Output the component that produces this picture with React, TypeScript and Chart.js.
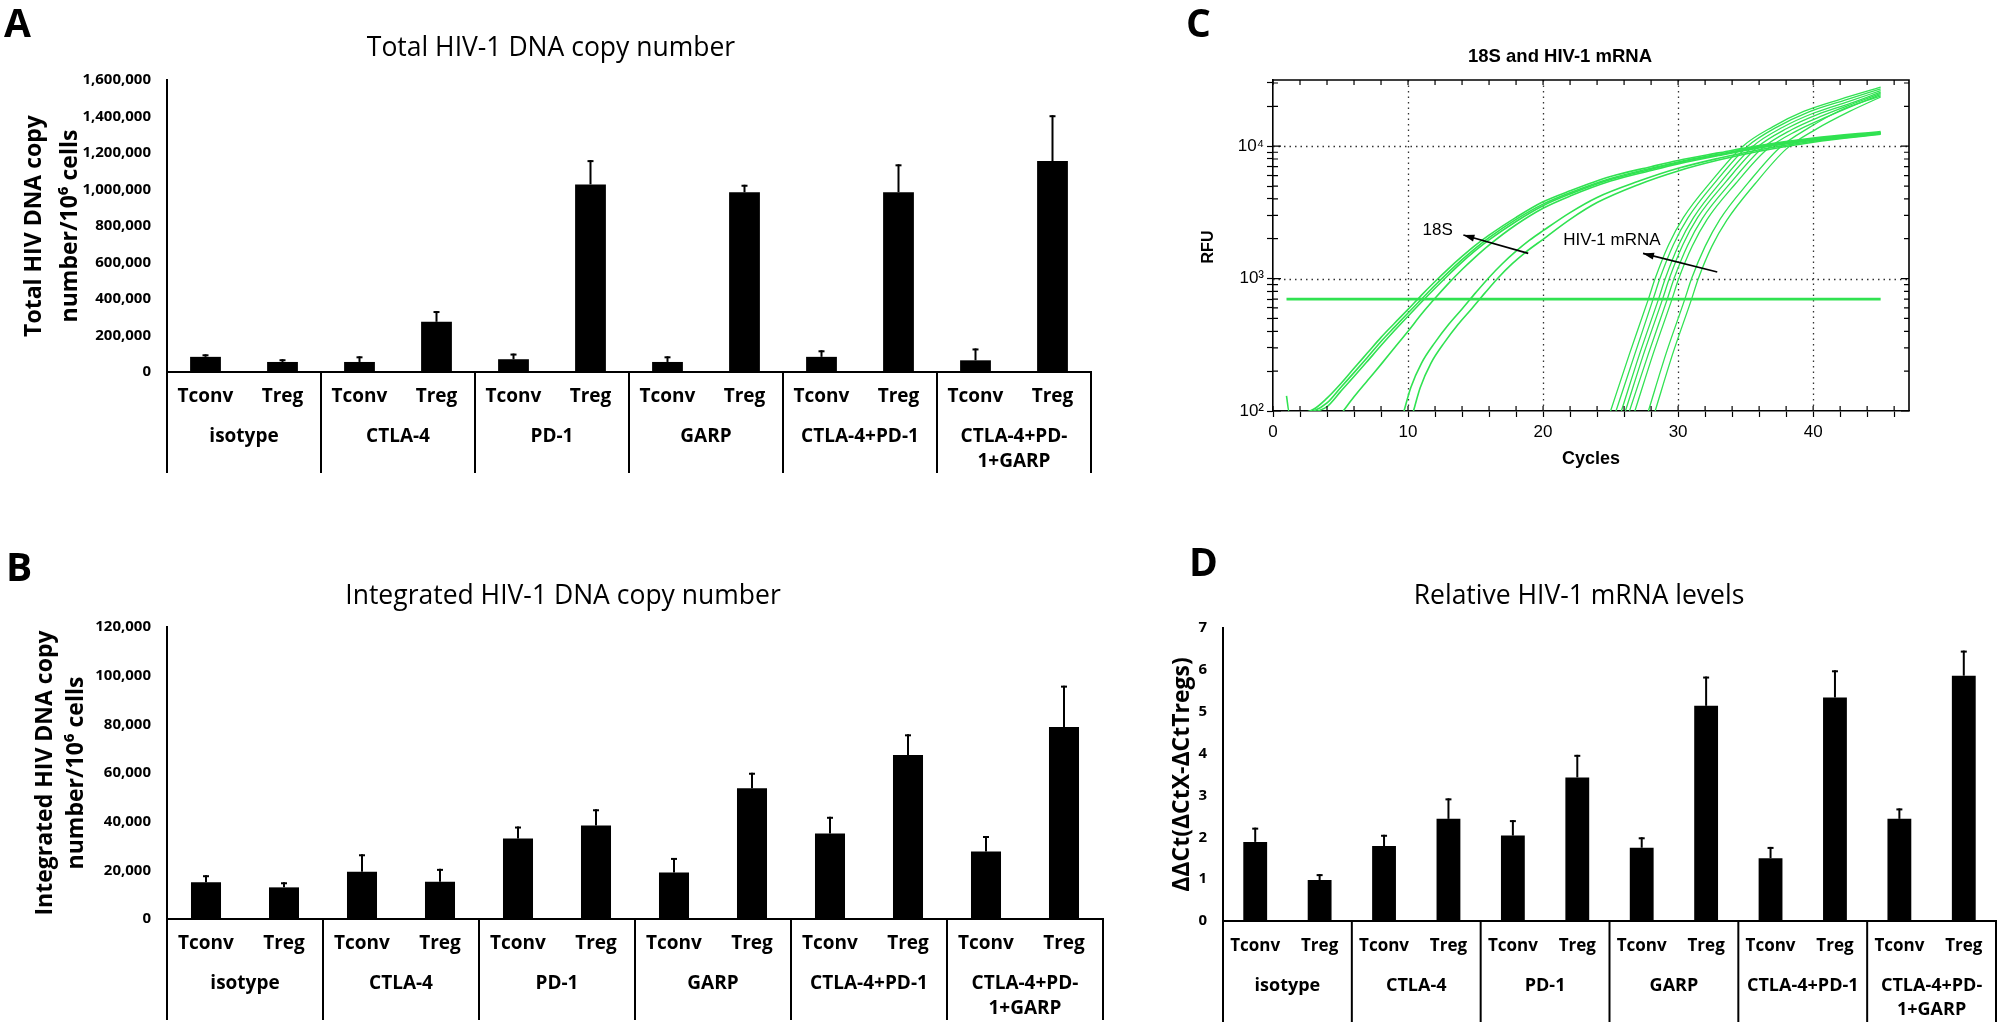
import React, { useEffect, useRef } from "react";
import { Chart, registerables } from "chart.js";

Chart.register(...registerables);

// ---------- shared categories ----------
const CELL_TYPES = ["Tconv", "Treg"];
const TREATMENTS: (string | string[])[] = [
  "isotype",
  "CTLA-4",
  "PD-1",
  "GARP",
  "CTLA-4+PD-1",
  ["CTLA-4+PD-", "1+GARP"],
];
const BAR_LABELS: string[] = TREATMENTS.flatMap(() => CELL_TYPES);

// ---------- panel A : total HIV-1 DNA ----------
const totalDnaMeans = [83000, 55000, 55000, 275000, 70000, 1028000, 55000, 985000, 83000, 985000, 64000, 1156000];
const totalDnaErrors = [14000, 15000, 31000, 59000, 31000, 133000, 31000, 41000, 36000, 153000, 65000, 251000];

// ---------- panel B : integrated HIV-1 DNA ----------
const integratedDnaMeans = [15100, 13000, 19400, 15300, 33100, 38400, 19100, 53700, 35100, 67400, 27700, 78900];
const integratedDnaErrors = [2900, 2100, 7200, 5300, 4900, 6700, 6000, 6400, 6900, 8500, 6400, 17000];

// ---------- panel D : relative HIV-1 mRNA ----------
const mrnaMeans = [1.89, 0.98, 1.79, 2.44, 2.04, 3.43, 1.75, 5.14, 1.5, 5.34, 2.44, 5.86];
const mrnaErrors = [0.34, 0.14, 0.27, 0.49, 0.37, 0.54, 0.25, 0.7, 0.27, 0.65, 0.25, 0.6];

// ---------- panel C : amplification curves [cycle, RFU] ----------
const s18S_1: [number, number][] = [[1, 130], [1.2, 98], [2, 97], [3, 103], [4, 125], [5, 160], [6, 210], [7, 275], [8, 360], [9, 460], [10, 585], [11, 750], [12, 950], [13, 1190], [14, 1470], [15, 1790], [16, 2130], [18, 2900], [20, 3800], [22, 4600], [25, 5900], [28, 7000], [30, 7800], [33, 8900], [36, 10100], [40, 11500], [45, 12900]];
const s18S_2: [number, number][] = [[1, 96], [2, 97], [3, 100], [4, 115], [5, 150], [6, 195], [7, 255], [8, 335], [9, 430], [10, 550], [11, 700], [12, 890], [13, 1120], [14, 1390], [15, 1700], [16, 2040], [18, 2800], [20, 3650], [22, 4450], [25, 5700], [28, 6800], [30, 7600], [33, 8700], [36, 9900], [40, 11300], [45, 12700]];
const s18S_3: [number, number][] = [[1, 96], [2, 96], [3, 98], [4, 108], [5, 140], [6, 182], [7, 238], [8, 312], [9, 405], [10, 520], [11, 665], [12, 845], [13, 1065], [14, 1330], [15, 1630], [16, 1960], [18, 2700], [20, 3550], [22, 4350], [25, 5600], [28, 6700], [30, 7500], [33, 8600], [36, 9800], [40, 11200], [45, 12600]];
const s18S_4: [number, number][] = [[5.2, 100], [6, 128], [7, 170], [8, 225], [9, 300], [10, 400], [11, 540], [12, 710], [13, 920], [14, 1170], [15, 1460], [16, 1790], [18, 2550], [20, 3400], [22, 4200], [25, 5450], [28, 6550], [30, 7350], [33, 8500], [36, 9700], [40, 11100], [45, 12500]];
const s18S_5: [number, number][] = [[9.7, 100], [10.2, 150], [11, 230], [12, 330], [13, 450], [14, 590], [15, 780], [16, 1020], [17, 1300], [18, 1610], [19, 1950], [20, 2300], [22, 3150], [24, 4100], [27, 5400], [30, 6800], [33, 8100], [36, 9400], [40, 10900], [45, 12400]];
const s18S_6: [number, number][] = [[10.4, 100], [10.9, 150], [11.7, 230], [12.7, 330], [13.7, 450], [14.7, 590], [15.7, 780], [16.7, 1020], [17.7, 1290], [18.7, 1580], [20, 1980], [22, 2800], [24, 3750], [27, 5100], [30, 6500], [33, 7850], [36, 9150], [40, 10700], [45, 12300]];

const hiv_1: [number, number][] = [[25.0, 100], [26.4, 270], [27.8, 700], [28.3, 1000], [29.3, 1800], [30.4, 2900], [32.5, 5500], [34.8, 10000], [37.0, 14000], [39.3, 18300], [42.0, 22600], [45.0, 27900]];
const hiv_2: [number, number][] = [[25.4, 100], [26.8, 270], [28.15, 700], [28.65, 1000], [29.65, 1800], [30.75, 2900], [32.85, 5500], [35.15, 10000], [37.35, 14000], [39.65, 18100], [42.3, 22200], [45.0, 27100]];
const hiv_3: [number, number][] = [[25.8, 100], [27.15, 270], [28.55, 700], [29.05, 1000], [30.05, 1800], [31.15, 2900], [33.25, 5500], [35.55, 10000], [37.75, 13900], [40.05, 17800], [42.6, 21700], [45.0, 26300]];
const hiv_4: [number, number][] = [[26.1, 100], [27.45, 270], [28.85, 700], [29.35, 1000], [30.35, 1800], [31.45, 2900], [33.55, 5400], [35.85, 9800], [38.05, 13600], [40.35, 17400], [42.8, 21100], [45.0, 25600]];
const hiv_5: [number, number][] = [[26.4, 100], [27.8, 270], [29.2, 700], [29.7, 1000], [30.7, 1780], [31.8, 2850], [33.9, 5300], [36.2, 9600], [38.4, 13300], [40.7, 17000], [43.0, 21000], [45.0, 25000]];
const hiv_6: [number, number][] = [[26.8, 100], [28.15, 270], [29.55, 700], [30.05, 1000], [31.05, 1760], [32.15, 2800], [34.25, 5200], [36.55, 9400], [38.75, 13000], [41.05, 16700], [43.2, 20700], [45.0, 24500]];
const hiv_7: [number, number][] = [[27.8, 100], [29.1, 270], [30.5, 700], [31.0, 1000], [32.0, 1750], [33.1, 2800], [35.2, 5300], [37.5, 9700], [39.7, 13800], [42.0, 18600], [45.0, 24000]];
const hiv_8: [number, number][] = [[28.3, 100], [29.6, 270], [31.0, 700], [31.5, 1000], [32.5, 1750], [33.6, 2750], [35.7, 5200], [38.0, 9500], [40.2, 13400], [42.7, 18300], [45.0, 23500]];

const thresholdLine: [number, number][] = [[1, 700], [45, 700]];

const curves18S = [s18S_1, s18S_2, s18S_3, s18S_4, s18S_5, s18S_6];
const curvesHIV = [hiv_1, hiv_2, hiv_3, hiv_4, hiv_5, hiv_6, hiv_7, hiv_8];

const cycleTicks = [0, 2, 4, 6, 8, 10, 12, 14, 16, 18, 20, 22, 24, 26, 28, 30, 32, 34, 36, 38, 40, 42, 44, 46];
const cycleGrid = [10, 20, 30, 40];
const rfuTicks = [100, 200, 300, 400, 500, 600, 700, 800, 900, 1000, 2000, 3000, 4000, 5000, 6000, 7000, 8000, 9000, 10000, 20000, 30000];
const rfuGrid = [1000, 10000];

// annotation anchors, in data units (cycle, RFU)
const arrow18S = { tail: [18.9, 1550], head: [14.1, 2130], label: [12.2, 2300], text: "18S" };
const arrowHIV = { tail: [32.9, 1120], head: [27.4, 1550], label: [25.1, 1950], text: "HIV-1 mRNA" };

const GREEN = "#30e251";
const SANS = "'Open Sans', sans-serif";
const ARIAL = "'Liberation Sans', Arial, sans-serif";

// ================= bar panel =================
type BarPanelProps = {
  left: number;
  top: number;
  width: number;
  height: number;
  padding: { left: number; top: number; right: number; bottom: number };
  yAxisWidth: number;
  means: number[];
  errors: number[];
  yMax: number;
  yStep: number;
  yTitle: string[];
  yTitleX: number[];
  barPct: number;
  cellFont: number;
  groupFont: number;
};

function BarPanel(p: BarPanelProps) {
  const ref = useRef<HTMLCanvasElement>(null);
  useEffect(() => {
    const canvas = ref.current;
    if (!canvas) return;

    const decor: any = {
      id: "barDecor",
      afterDatasetsDraw(chart: any) {
        const ctx = chart.ctx;
        const ys = chart.scales.y;
        const meta = chart.getDatasetMeta(0);
        ctx.save();
        ctx.strokeStyle = "#000";
        ctx.lineWidth = 2;
        p.means.forEach((v, i) => {
          const el = meta.data[i];
          if (!el) return;
          const x = el.x;
          const y0 = ys.getPixelForValue(v);
          const y1 = ys.getPixelForValue(v + p.errors[i]);
          ctx.beginPath();
          ctx.moveTo(x, y0);
          ctx.lineTo(x, y1);
          ctx.stroke();
          ctx.beginPath();
          ctx.moveTo(x - 3, y1 + 1);
          ctx.lineTo(x + 3, y1 + 1);
          ctx.stroke();
        });
        ctx.restore();
      },
      afterDraw(chart: any) {
        const ctx = chart.ctx;
        const ca = chart.chartArea;
        const xs = chart.scales.x;
        const x2 = chart.scales.x2;
        const bottom = x2.bottom;
        const n = TREATMENTS.length;
        ctx.save();
        ctx.strokeStyle = "#000";
        ctx.lineWidth = 2;
        for (let g = 0; g <= n; g++) {
          let px: number;
          if (g === 0) px = ca.left;
          else if (g === n) px = ca.right;
          else px = (xs.getPixelForValue(2 * g - 1) + xs.getPixelForValue(2 * g)) / 2;
          ctx.beginPath();
          ctx.moveTo(px, ca.bottom - 1);
          ctx.lineTo(px, bottom);
          ctx.stroke();
        }
        ctx.fillStyle = "#000";
        ctx.font = `bold 23px ${SANS}`;
        ctx.textAlign = "center";
        ctx.textBaseline = "middle";
        const cy = (ca.top + ca.bottom) / 2;
        p.yTitle.forEach((line, i) => {
          ctx.save();
          ctx.translate(p.yTitleX[i], cy);
          ctx.rotate(-Math.PI / 2);
          ctx.fillText(line, 0, 0);
          ctx.restore();
        });
        ctx.restore();
      },
    };

    const cellLine = p.cellFont * 1.2;
    const groupLine = p.groupFont * 1.3;

    const chart = new Chart(canvas, {
      type: "bar",
      data: {
        labels: BAR_LABELS,
        datasets: [
          {
            data: p.means,
            backgroundColor: "#000",
            borderWidth: 0,
            barPercentage: p.barPct,
            categoryPercentage: 1,
          },
        ],
      },
      options: {
        animation: false,
        responsive: false,
        maintainAspectRatio: false,
        layout: { padding: p.padding },
        plugins: { legend: { display: false }, tooltip: { enabled: false }, title: { display: false } },
        scales: {
          x: {
            type: "category",
            position: "bottom",
            weight: 0,
            offset: true,
            grid: { display: false, drawTicks: false },
            border: { display: true, color: "#000", width: 2 },
            ticks: {
              color: "#000",
              font: { family: SANS, size: p.cellFont, weight: "bold", lineHeight: 1.2 },
              padding: 25 - cellLine / 2,
              maxRotation: 0,
              autoSkip: false,
            },
            afterFit: (s: any) => {
              s.height = 40;
            },
          },
          x2: {
            type: "category",
            labels: TREATMENTS as any,
            position: "bottom",
            weight: 1,
            offset: true,
            grid: { display: false, drawTicks: false },
            border: { display: false },
            ticks: {
              color: "#000",
              font: { family: SANS, size: p.groupFont, weight: "bold", lineHeight: 1.3 },
              padding: 25 - groupLine / 2,
              maxRotation: 0,
              autoSkip: false,
            },
            afterFit: (s: any) => {
              s.height = 61;
            },
          },
          y: {
            min: 0,
            max: p.yMax,
            grid: { display: false, drawTicks: false },
            border: { display: true, color: "#000", width: 2 },
            ticks: {
              stepSize: p.yStep,
              color: "#000",
              padding: 16,
              font: { family: SANS, size: 15, weight: "bold" },
              callback: (v: any) => Number(v).toLocaleString("en-US"),
            },
            afterFit: (s: any) => {
              s.width = p.yAxisWidth;
            },
          },
        } as any,
      },
      plugins: [decor],
    } as any);
    return () => chart.destroy();
  }, []);
  return (
    <canvas
      ref={ref}
      width={p.width}
      height={p.height}
      style={{ position: "absolute", left: p.left, top: p.top, width: p.width, height: p.height }}
    />
  );
}

// ================= qPCR panel =================
function QpcrPanel() {
  const ref = useRef<HTMLCanvasElement>(null);
  useEffect(() => {
    const canvas = ref.current;
    if (!canvas) return;

    const toPts = (c: [number, number][]) => c.map(([x, y]) => ({ x, y }));
    const curveDs = (c: [number, number][], w: number) => ({
      data: toPts(c),
      borderColor: GREEN,
      borderWidth: w,
      pointRadius: 0,
      fill: false,
      cubicInterpolationMode: "monotone",
    });

    const drawArrow = (ctx: any, x1: number, y1: number, x2: number, y2: number) => {
      ctx.beginPath();
      ctx.moveTo(x1, y1);
      ctx.lineTo(x2, y2);
      ctx.stroke();
      const a = Math.atan2(y2 - y1, x2 - x1);
      const L = 11;
      const W = 3.5;
      ctx.beginPath();
      ctx.moveTo(x2, y2);
      ctx.lineTo(x2 - L * Math.cos(a) + W * Math.sin(a), y2 - L * Math.sin(a) - W * Math.cos(a));
      ctx.lineTo(x2 - L * Math.cos(a) - W * Math.sin(a), y2 - L * Math.sin(a) + W * Math.cos(a));
      ctx.closePath();
      ctx.fill();
    };

    const decor: any = {
      id: "qpcrDecor",
      beforeDatasetsDraw(chart: any) {
        const { ctx, chartArea: ca } = chart;
        const xs = chart.scales.x;
        const ys = chart.scales.y;
        ctx.save();
        ctx.strokeStyle = "#333";
        ctx.lineWidth = 1.3;
        ctx.setLineDash([1.5, 4]);
        cycleGrid.forEach((v) => {
          const px = Math.round(xs.getPixelForValue(v)) + 0.5;
          ctx.beginPath();
          ctx.moveTo(px, ca.top);
          ctx.lineTo(px, ca.bottom);
          ctx.stroke();
        });
        rfuGrid.forEach((v) => {
          const py = Math.round(ys.getPixelForValue(v)) + 0.5;
          ctx.beginPath();
          ctx.moveTo(ca.left, py);
          ctx.lineTo(ca.right, py);
          ctx.stroke();
        });
        ctx.restore();
      },
      afterDatasetsDraw(chart: any) {
        const { ctx, chartArea: ca } = chart;
        const xs = chart.scales.x;
        const ys = chart.scales.y;
        ctx.save();
        ctx.strokeStyle = "#000";
        ctx.fillStyle = "#000";
        ctx.lineWidth = 1.6;
        ctx.beginPath();
        ctx.moveTo(ca.left, ca.top);
        ctx.lineTo(ca.right, ca.top);
        ctx.lineTo(ca.right, ca.bottom);
        ctx.stroke();
        ctx.lineWidth = 1.2;
        xs.ticks.forEach((t: any) => {
          const px = xs.getPixelForValue(t.value);
          ctx.beginPath();
          ctx.moveTo(px, ca.bottom);
          ctx.lineTo(px, ca.bottom - 5);
          ctx.moveTo(px, ca.top);
          ctx.lineTo(px, ca.top + 5);
          ctx.stroke();
        });
        ys.ticks.forEach((t: any) => {
          const py = ys.getPixelForValue(t.value);
          const major = Math.abs(Math.log10(t.value) - Math.round(Math.log10(t.value))) < 1e-6;
          const len = major ? 8 : 5;
          ctx.beginPath();
          ctx.moveTo(ca.left, py);
          ctx.lineTo(ca.left + len, py);
          ctx.moveTo(ca.right, py);
          ctx.lineTo(ca.right - len, py);
          ctx.stroke();
        });
        ctx.lineWidth = 1.6;
        [arrow18S, arrowHIV].forEach((a) => {
          drawArrow(
            ctx,
            xs.getPixelForValue(a.tail[0]),
            ys.getPixelForValue(a.tail[1]),
            xs.getPixelForValue(a.head[0]),
            ys.getPixelForValue(a.head[1])
          );
          ctx.font = `17px ${ARIAL}`;
          ctx.textAlign = "center";
          ctx.textBaseline = "middle";
          ctx.fillText(a.text, xs.getPixelForValue(a.label[0]), ys.getPixelForValue(a.label[1]));
        });
        ctx.font = `bold 16px ${ARIAL}`;
        ctx.save();
        ctx.translate(ca.left - 64, ys.getPixelForValue(Math.sqrt(1000 * 3000)));
        ctx.rotate(-Math.PI / 2);
        ctx.fillText("RFU", 0, 0);
        ctx.restore();
        ctx.font = `bold 18px ${ARIAL}`;
        ctx.fillText("Cycles", (ca.left + ca.right) / 2, ca.bottom + 48);
        ctx.restore();
      },
    };

    const sup: Record<string, string> = { "2": "\u00b2", "3": "\u00b3", "4": "\u2074", "5": "\u2075" };

    const chart = new Chart(canvas, {
      type: "line",
      data: {
        datasets: [
          ...curves18S.map((c) => curveDs(c, 1.6)),
          ...curvesHIV.map((c) => curveDs(c, 1.3)),
          { ...curveDs(thresholdLine, 2.6), cubicInterpolationMode: "default", tension: 0 },
        ],
      },
      options: {
        animation: false,
        responsive: false,
        maintainAspectRatio: false,
        layout: { padding: { left: 68, top: 80, right: 92, bottom: 54 } },
        plugins: { legend: { display: false }, tooltip: { enabled: false } },
        scales: {
          x: {
            type: "linear",
            min: 0,
            max: 47.1,
            afterBuildTicks: (s: any) => {
              s.ticks = cycleTicks.map((v) => ({ value: v }));
            },
            grid: { drawOnChartArea: false, drawTicks: true, tickLength: 6, tickColor: "#000", tickWidth: 1.2 },
            border: { display: true, color: "#000", width: 1.6 },
            ticks: {
              autoSkip: false,
              maxRotation: 0,
              color: "#000",
              padding: 5,
              font: { family: ARIAL, size: 17 },
              callback: (v: any) => (Number(v) % 10 === 0 ? String(v) : ""),
            },
            afterFit: (s: any) => {
              s.height = 35;
            },
          },
          y: {
            type: "logarithmic",
            min: 100,
            max: 31600,
            afterBuildTicks: (s: any) => {
              s.ticks = rfuTicks.map((v) => ({ value: v }));
            },
            grid: { drawOnChartArea: false, drawTicks: true, tickLength: 6, tickColor: "#000", tickWidth: 1.2 },
            border: { display: true, color: "#000", width: 1.6 },
            ticks: {
              autoSkip: false,
              color: "#000",
              padding: 3,
              font: { family: ARIAL, size: 17 },
              callback: (v: any) => {
                const l = Math.log10(Number(v));
                if (Math.abs(l - Math.round(l)) < 1e-6) return "10" + (sup[String(Math.round(l))] || "");
                return "";
              },
            },
            afterFit: (s: any) => {
              s.width = 55;
            },
          },
        } as any,
      },
      plugins: [decor],
    } as any);
    return () => chart.destroy();
  }, []);
  return (
    <canvas
      ref={ref}
      width={851}
      height={500}
      style={{ position: "absolute", left: 1150, top: 0, width: 851, height: 500 }}
    />
  );
}

// ================= page =================
function Txt(props: { children: any; style: any }) {
  return (
    <div style={{ position: "absolute", whiteSpace: "nowrap", lineHeight: 1, color: "#000", ...props.style }}>
      {props.children}
    </div>
  );
}

export default function App() {
  const letter = { fontFamily: SANS, fontWeight: 700, fontSize: 39 };
  const title = { fontFamily: SANS, fontWeight: 400, fontSize: 26.5, transform: "translateX(-50%)" };
  return (
    <div
      style={{
        position: "absolute",
        left: 0,
        top: 0,
        width: 2001,
        height: 1024,
        background: "#fff",
        overflow: "hidden",
      }}
    >
      <BarPanel
        left={0}
        top={0}
        width={1150}
        height={490}
        padding={{ left: 67, top: 80, right: 59, bottom: 17 }}
        yAxisWidth={100}
        means={totalDnaMeans}
        errors={totalDnaErrors}
        yMax={1600000}
        yStep={200000}
        yTitle={["Total HIV DNA copy", "number/10\u2076 cells"]}
        yTitleX={[34, 70]}
        barPct={0.4}
        cellFont={19}
        groupFont={19}
      />
      <BarPanel
        left={0}
        top={500}
        width={1160}
        height={524}
        padding={{ left: 67, top: 127, right: 57, bottom: 4 }}
        yAxisWidth={100}
        means={integratedDnaMeans}
        errors={integratedDnaErrors}
        yMax={120000}
        yStep={20000}
        yTitle={["Integrated HIV DNA copy", "number/10\u2076 cells"]}
        yTitleX={[45, 76]}
        barPct={0.385}
        cellFont={19}
        groupFont={19}
      />
      <BarPanel
        left={1130}
        top={500}
        width={871}
        height={524}
        padding={{ left: 43, top: 128, right: 5, bottom: 2 }}
        yAxisWidth={50}
        means={mrnaMeans}
        errors={mrnaErrors}
        yMax={7}
        yStep={1}
        yTitle={["\u0394\u0394Ct(\u0394CtX-\u0394CtTregs)"]}
        yTitleX={[52]}
        barPct={0.37}
        cellFont={17}
        groupFont={18}
      />
      <QpcrPanel />

      <Txt style={{ ...letter, left: 4, top: 2 }}>A</Txt>
      <Txt style={{ ...letter, left: 6, top: 546 }}>B</Txt>
      <Txt style={{ ...letter, left: 1186, top: 2 }}>C</Txt>
      <Txt style={{ ...letter, left: 1189, top: 541 }}>D</Txt>

      <Txt style={{ ...title, left: 551, top: 33 }}>Total HIV-1 DNA copy number</Txt>
      <Txt style={{ ...title, left: 563, top: 581 }}>Integrated HIV-1 DNA copy number</Txt>
      <Txt style={{ ...title, left: 1579, top: 581 }}>Relative HIV-1 mRNA levels</Txt>
      <Txt
        style={{
          fontFamily: ARIAL,
          fontWeight: 700,
          fontSize: 18.5,
          left: 1560,
          top: 47,
          transform: "translateX(-50%)",
        }}
      >
        18S and HIV-1 mRNA
      </Txt>
    </div>
  );
}
